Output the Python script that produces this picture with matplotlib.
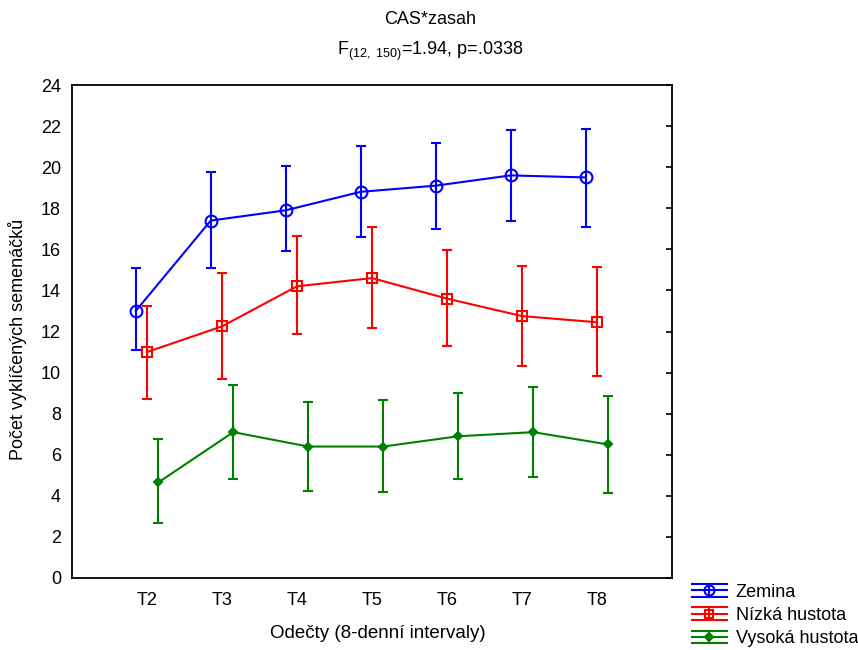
import matplotlib
matplotlib.use("Agg")
import matplotlib.pyplot as plt
from matplotlib.legend_handler import HandlerBase
from matplotlib.lines import Line2D
import numpy as np

plt.rcParams['font.family'] = ['Liberation Sans', 'DejaVu Sans']
plt.rcParams['mathtext.fontset'] = 'custom'
plt.rcParams['mathtext.rm'] = 'Liberation Sans'
plt.rcParams['mathtext.it'] = 'Liberation Sans'

categories = ['T2', 'T3', 'T4', 'T5', 'T6', 'T7', 'T8']
series_names = ['Zemina', 'Nízká hustota', 'Vysoká hustota']

zemina_mean = [13.0, 17.4, 17.9, 18.8, 19.1, 19.6, 19.5]
zemina_low = [11.1, 15.1, 15.9, 16.6, 17.0, 17.4, 17.1]
zemina_high = [15.1, 19.75, 20.05, 21.05, 21.2, 21.8, 21.85]

nizka_mean = [11.0, 12.25, 14.2, 14.6, 13.6, 12.75, 12.45]
nizka_low = [8.7, 9.7, 11.9, 12.15, 11.3, 10.3, 9.85]
nizka_high = [13.25, 14.85, 16.65, 17.1, 15.95, 15.2, 15.15]

vysoka_mean = [4.65, 7.1, 6.4, 6.4, 6.9, 7.1, 6.5]
vysoka_low = [2.7, 4.8, 4.25, 4.2, 4.8, 4.9, 4.15]
vysoka_high = [6.75, 9.4, 8.55, 8.65, 9.0, 9.3, 8.85]

colors = ['#0000ff', '#ff0000', '#008000']
markers = ['o', 's', 'D']
msizes = [8.5, 7.5, 4.5]
offsets = [-0.15, 0.0, 0.15]
FS = 13
LW = 1.5

fig = plt.figure(figsize=(8.58, 6.5), dpi=100)
ax = fig.add_axes([72/858, 1-578/650, 600/858, 493/650])

data = [(zemina_mean, zemina_low, zemina_high),
        (nizka_mean, nizka_low, nizka_high),
        (vysoka_mean, vysoka_low, vysoka_high)]

x = np.arange(len(categories))
handles = []
for (m, lo, hi), c, mk, ms, off, name in zip(data, colors, markers, msizes, offsets, series_names):
    m = np.array(m); lo = np.array(lo); hi = np.array(hi)
    ax.errorbar(x + off, m, yerr=[m - lo, hi - m], color=c, ecolor=c,
                elinewidth=LW, capsize=3.6, capthick=LW, lw=LW,
                marker=mk, markersize=ms, markerfacecolor='none' if mk != 'D' else c,
                markeredgecolor=c, markeredgewidth=LW, label=name)
    handles.append(Line2D([], [], color=c, marker=mk, markersize=ms*0.85,
                          markerfacecolor='none' if mk != 'D' else c,
                          markeredgecolor=c, lw=LW, label=name))

ax.set_xlim(-1, 7)
ax.set_ylim(0, 24)
ax.set_yticks(np.arange(0, 25, 2))
ax.set_xticks(x)
ax.set_xticklabels(categories)
ax.tick_params(axis='x', length=0, labelsize=FS, pad=10)
ax.tick_params(axis='y', left=False, right=True, labelleft=True, labelright=False,
               direction='in', length=4, width=1.2, labelsize=FS, pad=8)
for s in ax.spines.values():
    s.set_linewidth(1.3)

ax.set_ylabel('Počet vyklíčených semenáčků', fontsize=FS)
ax.yaxis.set_label_coords(-0.075, 0.485)
ax.set_xlabel('Odečty (8-denní intervaly)', fontsize=13.5)
ax.xaxis.set_label_coords(0.51, -0.096)

fig.text(430/858, 1-19/650, 'CAS*zasah', ha='center', va='center', fontsize=FS)
fig.text(430/858, 1-51/650, r'F$_{\mathrm{(12,\ 150)}}$=1.94, p=.0338',
         ha='center', va='center', fontsize=FS)


class ErrHandler(HandlerBase):
    def create_artists(self, legend, orig_handle, xdescent, ydescent, width, height, fontsize, trans):
        c = orig_handle.get_color()
        y0 = height / 2 - ydescent
        dy = height * 0.5
        arts = []
        for yy in (y0 - dy, y0, y0 + dy):
            arts.append(Line2D([-xdescent, width - xdescent], [yy, yy], color=c, lw=LW, transform=trans))
        xm = (width) / 2 - xdescent
        arts.append(Line2D([xm, xm], [y0 - dy, y0 + dy], color=c, lw=LW, transform=trans))
        arts.append(Line2D([xm], [y0], color=c, marker=orig_handle.get_marker(),
                           markersize=orig_handle.get_markersize(),
                           markerfacecolor=orig_handle.get_markerfacecolor(),
                           markeredgecolor=c, markeredgewidth=LW, lw=0, transform=trans))
        return arts

fig.legend(handles=handles, labels=series_names, handler_map={Line2D: ErrHandler()},
           loc='upper left', bbox_to_anchor=(688/858, 1-580/650), frameon=False,
           fontsize=FS, handlelength=1.95, handletextpad=0.5, labelspacing=0.35,
           borderpad=0.2, borderaxespad=0.0)

fig.savefig('out.png', dpi=100)
